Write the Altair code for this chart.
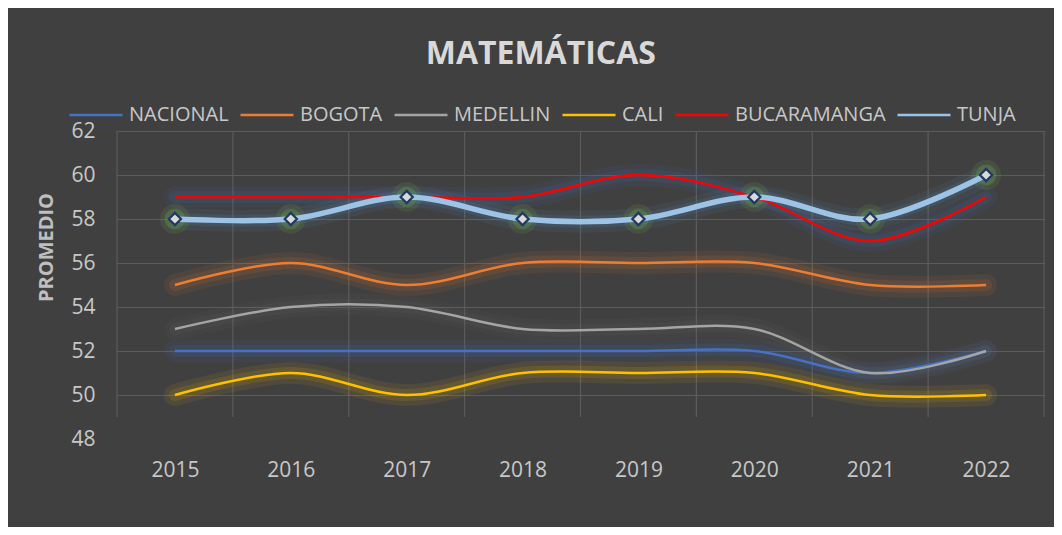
import altair as alt
import pandas as pd

years = [2015, 2016, 2017, 2018, 2019, 2020, 2021, 2022]
series = ["NACIONAL", "BOGOTA", "MEDELLIN", "CALI", "BUCARAMANGA", "TUNJA"]
nacional = [52, 52, 52, 52, 52, 52, 51, 52]
bogota = [55, 56, 55, 56, 56, 56, 55, 55]
medellin = [53, 54, 54, 53, 53, 53, 51, 52]
cali = [50, 51, 50, 51, 51, 51, 50, 50]
bucaramanga = [59, 59, 59, 59, 60, 59, 57, 59]
tunja = [58, 58, 59, 58, 58, 59, 58, 60]
y_ticks = [48, 50, 52, 54, 56, 58, 60, 62]

line_colors = ["#4472C4", "#ED7D31", "#A5A5A5", "#FFC000", "#FF0000", "#9DC3E6"]
glow_colors = ["#4472C4", "#ED7D31", "#6A6A6A", "#FFC000", "#4472C4", "#5B9BD5"]

values = [nacional, bogota, medellin, cali, bucaramanga, tunja]
rows = []
for s, vals in zip(series, values):
    for yr, v in zip(years, vals):
        rows.append({"year": yr, "value": v, "serie": s})
df = pd.DataFrame(rows)

bounds = pd.DataFrame({"b": [y - 0.5 for y in years] + [years[-1] + 0.5]})

FONT = "Open Sans"
LABEL = "#C8C8C8"

x_enc = alt.X("year:Q", scale=alt.Scale(domain=[years[0] - 0.5, years[-1] + 0.5], nice=False, zero=False),
              axis=alt.Axis(values=years, format="d", grid=False, ticks=False, domain=False,
                            labelFontSize=21, labelFont=FONT, labelColor=LABEL, labelPadding=20,
                            title=None))
y_enc = alt.Y("value:Q", scale=alt.Scale(domain=[y_ticks[0], y_ticks[-1]], nice=False, zero=False),
              axis=alt.Axis(values=y_ticks, ticks=False, domain=False, grid=True,
                            gridColor="#5C5C5C", gridWidth=1.2,
                            gridOpacity={"condition": {"test": "datum.value < 49", "value": 0}, "value": 1},
                            labelFontSize=21, labelFont=FONT, labelColor=LABEL, labelPadding=22,
                            title="PROMEDIO", titleFontSize=20, titleFont=FONT, titleFontWeight="bold",
                            titleColor="#BFBFBF", titlePadding=14, titleY=116))

base = alt.Chart(df)

vgrid = alt.Chart(bounds).mark_rule(color="#5C5C5C", strokeWidth=1.2).encode(
    x=alt.X("b:Q"), y=alt.datum(y_ticks[-1]), y2=alt.datum(y_ticks[0] + 1)
)

glow_stroke = alt.Stroke("glow:N", scale=alt.Scale(domain=series + ["-"], range=glow_colors + ["#000000"]),
                         legend=None)
glow_base = base.transform_calculate(glow="datum.serie")
glow1 = glow_base.mark_line(interpolate="cardinal", strokeWidth=22, opacity=0.08, strokeCap="round").encode(
    x=x_enc, y=y_enc, stroke=glow_stroke, detail="serie:N")
glow2 = glow_base.mark_line(interpolate="cardinal", strokeWidth=12, opacity=0.12, strokeCap="round").encode(
    x=x_enc, y=y_enc, stroke=glow_stroke, detail="serie:N")

tunja_df = df[df["serie"] == "TUNJA"]
mark_glow1 = alt.Chart(tunja_df).mark_circle(size=900, color="#70AD47", opacity=0.14).encode(x=x_enc, y=y_enc)
mark_glow2 = alt.Chart(tunja_df).mark_circle(size=420, color="#70AD47", opacity=0.26).encode(x=x_enc, y=y_enc)

color_enc = alt.Color(
    "serie:N", scale=alt.Scale(domain=series, range=line_colors), sort=series,
    legend=alt.Legend(title=None, orient="none", direction="horizontal",
                      legendX=-49, legendY=-44,
                      symbolType="stroke", symbolSize=2809, symbolStrokeWidth=2.5,
                      labelFont=FONT, labelFontSize=20, labelColor=LABEL,
                      labelOffset=5, columnPadding=6, symbolOpacity=1))

lines = base.transform_filter(alt.datum.serie != "TUNJA").mark_line(interpolate="cardinal", strokeWidth=2.5).encode(
    x=x_enc, y=y_enc, color=color_enc, order=alt.Order("year:Q"))

tunja_line = alt.Chart(tunja_df).mark_line(interpolate="cardinal", strokeWidth=5.5, strokeCap="round").encode(
    x=x_enc, y=y_enc, color=color_enc, order=alt.Order("year:Q"))

markers = alt.Chart(tunja_df).mark_point(shape="diamond", size=150, filled=True, fill="#D9D9D9",
                                         stroke="#203864", strokeWidth=2.2, opacity=1).encode(x=x_enc, y=y_enc)

chart = alt.layer(vgrid, glow1, glow2, mark_glow1, mark_glow2, lines, tunja_line, markers).properties(
    width=927, height=308,
    autosize=alt.AutoSizeParams(type="none"),
    padding={"left": 109, "top": 123, "right": 10, "bottom": 88},
    background="#404040",
    title=alt.TitleParams("MATEMÁTICAS", fontSize=32, font=FONT, fontWeight="bold", color="#D9D9D9",
                          anchor="middle", frame="bounds", offset=16),
).configure_view(stroke=None)

chart.save("out.html", embed_options={"renderer": "svg", "actions": False})
